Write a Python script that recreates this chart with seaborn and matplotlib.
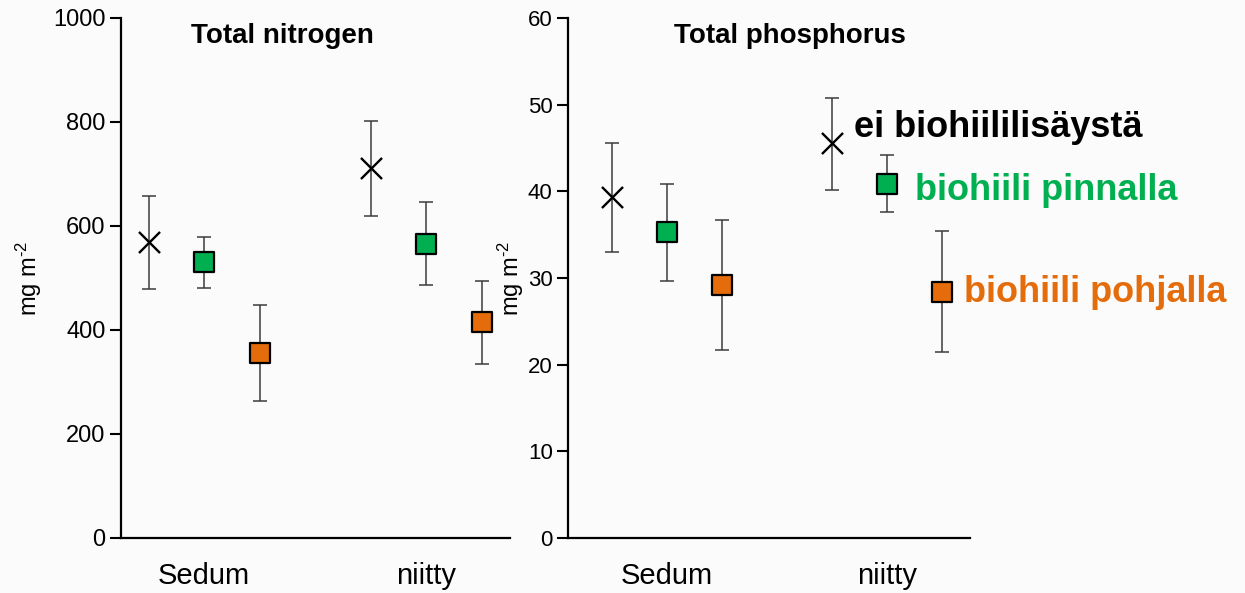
import matplotlib
matplotlib.use("Agg")
import matplotlib.pyplot as plt
import seaborn as sns
import numpy as np

# ---- data ----
categories = ["Sedum", "niitty"]
treatments = ["ei biohiililisäystä", "biohiili pinnalla", "biohiili pohjalla"]

n_mean = [[570, 712], [531, 565], [356, 415]]
n_low = [[479, 620], [481, 486], [264, 335]]
n_high = [[658, 802], [579, 646], [449, 495]]

p_mean = [[39.3, 45.6], [35.3, 40.9], [29.2, 28.4]]
p_low = [[33.0, 40.2], [29.7, 37.6], [21.7, 21.5]]
p_high = [[45.6, 50.8], [40.8, 44.2], [36.7, 35.4]]

titles = ["Total nitrogen", "Total phosphorus"]
ylabel = r"mg m$^{\text{-2}}$"

# ---- style ----
sns.set_style("ticks")
plt.rcParams["font.family"] = ["Liberation Sans", "DejaVu Sans"]
plt.rcParams["mathtext.fontset"] = "custom"
plt.rcParams["mathtext.rm"] = "Liberation Sans"
plt.rcParams["mathtext.default"] = "regular"
plt.rcParams["text.color"] = "black"
plt.rcParams["xtick.color"] = "black"
plt.rcParams["ytick.color"] = "black"
plt.rcParams["axes.labelcolor"] = "black"

colors = ["black", "#00B050", "#E46C0A"]
markers = ["x", "s", "s"]
offsets = [-0.25, 0.0, 0.25]

fig = plt.figure(figsize=(12.45, 5.93), dpi=100, facecolor="#fbfbfb")
axL = fig.add_axes([121 / 1245, 55 / 593, 389 / 1245, 520 / 593])
axR = fig.add_axes([568 / 1245, 55 / 593, 402 / 1245, 520 / 593])

panels = [
    (axL, n_mean, n_low, n_high, (0, 1000), np.arange(0, 1001, 200), (-0.374, 1.378), -0.198, 0.416, 17),
    (axR, p_mean, p_low, p_high, (0, 60), np.arange(0, 61, 10), (-0.45, 1.377), -0.105, 0.552, 16),
]

cat_idx = np.arange(len(categories))

for (ax, mean, low, high, ylim, yticks, xlim, ylx, tx, tsize), title in zip(panels, titles):
    ax.set_facecolor("none")
    for i, t in enumerate(treatments):
        x = cat_idx + offsets[i]
        m = np.array(mean[i])
        lo = np.array(low[i])
        hi = np.array(high[i])
        ax.errorbar(x, m, yerr=[m - lo, hi - m], fmt="none", ecolor="#3c3c3c",
                    elinewidth=1.1, capsize=5, capthick=1.1, zorder=2)
        if markers[i] == "x":
            sns.scatterplot(x=x, y=m, marker="x", color=colors[i], s=230,
                            linewidth=1.7, ax=ax, zorder=3, legend=False)
        else:
            sns.scatterplot(x=x, y=m, marker="s", color=colors[i], s=190,
                            edgecolor="black", linewidth=1.6, ax=ax, zorder=3,
                            legend=False)
    ax.set_xlim(*xlim)
    ax.set_ylim(*ylim)
    ax.set_yticks(yticks)
    ax.set_xticks(cat_idx)
    ax.set_xticklabels(categories, fontsize=21)
    ax.tick_params(axis="x", length=0, pad=17)
    ax.tick_params(axis="y", length=8, width=1.5, labelsize=tsize, pad=3, direction="out")
    for side in ["top", "right"]:
        ax.spines[side].set_visible(False)
    for side in ["left", "bottom"]:
        ax.spines[side].set_linewidth(1.6)
        ax.spines[side].set_color("black")
    ax.set_xlabel("")
    ax.set_ylabel(ylabel, fontsize=17)
    ax.yaxis.set_label_coords(ylx, 0.5)
    ax.set_title(title, fontsize=20, fontweight="bold", y=0.935, x=tx)

# labels for the treatments next to the niitty markers of the phosphorus panel
label_offsets = [(22, 6), (28, -16), (22, -10)]
for i, t in enumerate(treatments):
    axR.annotate(t, xy=(cat_idx[1] + offsets[i], p_mean[i][1]),
                 xytext=label_offsets[i], textcoords="offset pixels",
                 ha="left", va="baseline", fontsize=26, fontweight="bold",
                 color=colors[i], annotation_clip=False)

fig.savefig("out.png", dpi=100, facecolor=fig.get_facecolor())
